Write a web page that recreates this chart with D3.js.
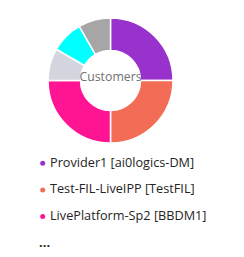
<!DOCTYPE html>
<html>
<head>
<meta charset="utf-8">
<script src="https://cdn.jsdelivr.net/npm/d3@7"></script>
<style>
  body { margin: 0; background: #fff; }
  svg { display: block; }
</style>
</head>
<body>
<div class="chart"></div>
<script>
var svgWidth = 244;
var svgHeight = 257;

// data
var customers = ["Provider1 [ai0logics-DM]", "Test-FIL-LiveIPP [TestFIL]", "LivePlatform-Sp2 [BBDM1]", "Other A", "Other B", "Other C"];
var counts = [3, 3, 3, 1, 1, 1];
var colors = ["#9932CC", "#F36C55", "#FF1493", "#D3D6DE", "#00FFFF", "#A6A6A6"];
var legendShown = 3;

var svg = d3.select(".chart")
  .append("svg")
  .attr("width", svgWidth)
  .attr("height", svgHeight);

var cx = 110.5, cy = 80.5;
var outerR = 62.5, innerR = 30;

var color = d3.scaleOrdinal().domain(customers).range(colors);

var pie = d3.pie().sort(null).value(function(d, i) { return counts[i]; });
var arc = d3.arc().innerRadius(innerR).outerRadius(outerR);

var donut = svg.append("g")
  .attr("transform", `translate(${cx}, ${cy})`);

donut.selectAll("path")
  .data(pie(customers))
  .enter()
  .append("path")
  .attr("d", arc)
  .attr("fill", d => color(d.data))
  .attr("stroke", "#fff")
  .attr("stroke-width", 1.5);

donut.append("text")
  .attr("text-anchor", "middle")
  .attr("y", 0.5)
  .attr("font-family", "'Segoe UI', 'Open Sans', sans-serif")
  .attr("font-size", 12.3)
  .attr("fill", "#6f6f6f")
  .text("Customers");

// legend
var legend = svg.append("g");
var rowH = 26.7;
var rows = legend.selectAll("g")
  .data(customers.slice(0, legendShown))
  .enter()
  .append("g")
  .attr("transform", (d, i) => `translate(0, ${166.7 + i * rowH})`);

rows.append("circle")
  .attr("cx", 42.7)
  .attr("cy", -3.5)
  .attr("r", 2.5)
  .attr("fill", d => color(d));

rows.append("text")
  .attr("x", 50)
  .attr("font-family", "'Segoe UI', 'Open Sans', sans-serif")
  .attr("font-size", 12.7)
  .attr("fill", "#252423")
  .text(d => d);

legend.append("text")
  .attr("x", 39)
  .attr("y", 166.7 + 3 * rowH)
  .attr("font-family", "'Segoe UI', 'Open Sans', sans-serif")
  .attr("font-size", 13)
  .attr("font-weight", "bold")
  .attr("fill", "#252423")
  .text("...");
</script>
</body>
</html>
